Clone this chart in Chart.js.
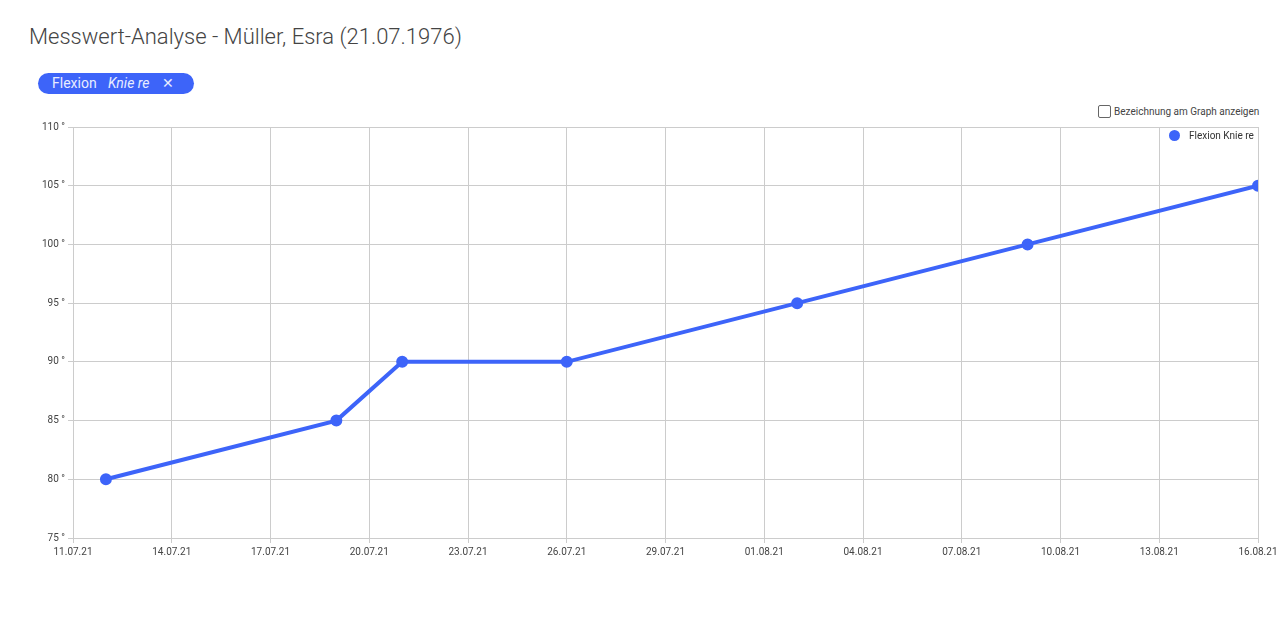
<!DOCTYPE html>
<html lang="de">
<head>
  <meta charset="UTF-8">
  <title>Messwert-Analyse</title>
  <script src="https://cdn.jsdelivr.net/npm/chart.js"></script>
  <style>
    body { margin: 0; font-family: Roboto, sans-serif; background: #fff; width: 1286px; height: 641px; position: relative; overflow: hidden; }
    h1 { position: absolute; left: 29px; top: 24px; margin: 0; font-weight: 300; font-size: 22px; color: #444; }
    .chip { position: absolute; left: 38px; top: 73px; width: 156px; height: 21px; border-radius: 11px; background: #3d64f9; color: #e8ecff; font-size: 14px; line-height: 21px; }
    .chip span { position: absolute; top: 0; }
    .check { position: absolute; left: 1098px; top: 105px; font-size: 10px; color: #444; }
    .check i { display: inline-block; width: 11px; height: 11px; border: 1px solid #666; border-radius: 2px; vertical-align: -3px; margin-right: 3px; }
    .legend { position: absolute; left: 1169px; top: 130px; font-size: 10px; color: #333; }
    .legend i { display: inline-block; width: 11px; height: 11px; border-radius: 50%; background: #3d64f9; vertical-align: -2px; margin-right: 9px; }
    #wrap { position: absolute; left: 0; top: 110px; width: 1286px; height: 470px; }
  </style>
</head>
<body>
  <h1>Messwert-Analyse - Müller, Esra (21.07.1976)</h1>
  <div class="chip"><span style="left:14px">Flexion</span><span style="left:70px;font-style:italic">Knie re</span><span style="left:124px">✕</span></div>
  <div class="check"><i></i>Bezeichnung am Graph anzeigen</div>
  <div id="wrap"><canvas id="chart"></canvas></div>
  <div class="legend"><i></i>Flexion Knie re</div>

  <script>
    // Tage seit 11.07.21
    const tage = [1, 8, 10, 15, 22, 29, 36];
    const werte = [80, 85, 90, 90, 95, 100, 105];
    const xLabels = ['11.07.21', '14.07.21', '17.07.21', '20.07.21', '23.07.21', '26.07.21', '29.07.21', '01.08.21', '04.08.21', '07.08.21', '10.08.21', '13.08.21', '16.08.21'];

    const blau = '#3d64f9';
    new Chart(document.getElementById('chart'), {
      type: 'line',
      data: {
        datasets: [{
          label: 'Flexion Knie re',
          data: tage.map((t, i) => ({ x: t, y: werte[i] })),
          borderColor: blau,
          backgroundColor: blau,
          borderWidth: 4,
          pointRadius: 4,
          tension: 0
        }]
      },
      options: {
        responsive: true,
        maintainAspectRatio: false,
        animation: false,
        layout: { padding: { top: 17, right: 28, left: 0, bottom: 0 } },
        plugins: { legend: { display: false }, tooltip: { enabled: false } },
        scales: {
          x: {
            type: 'linear', min: 0, max: 36,
            afterBuildTicks: s => { s.ticks = xLabels.map((l, i) => ({ value: i * 3 })); },
            afterFit: s => { s.height = 42; },
            grid: { color: '#ccc', drawTicks: true, tickLength: 5 },
            border: { color: '#ccc' },
            ticks: { color: '#444', font: { family: 'Roboto', size: 10 }, maxRotation: 0, autoSkip: false, padding: 3,
              callback: v => xLabels[v / 3] }
          },
          y: {
            min: 75, max: 110,
            afterFit: s => { s.width = 73; },
            grid: { color: '#ccc', tickLength: 5 },
            border: { color: '#ccc' },
            ticks: { stepSize: 5, color: '#444', font: { family: 'Roboto', size: 10 }, padding: 3,
              callback: v => v + ' °' }
          }
        }
      }
    });
  </script>
</body>
</html>
